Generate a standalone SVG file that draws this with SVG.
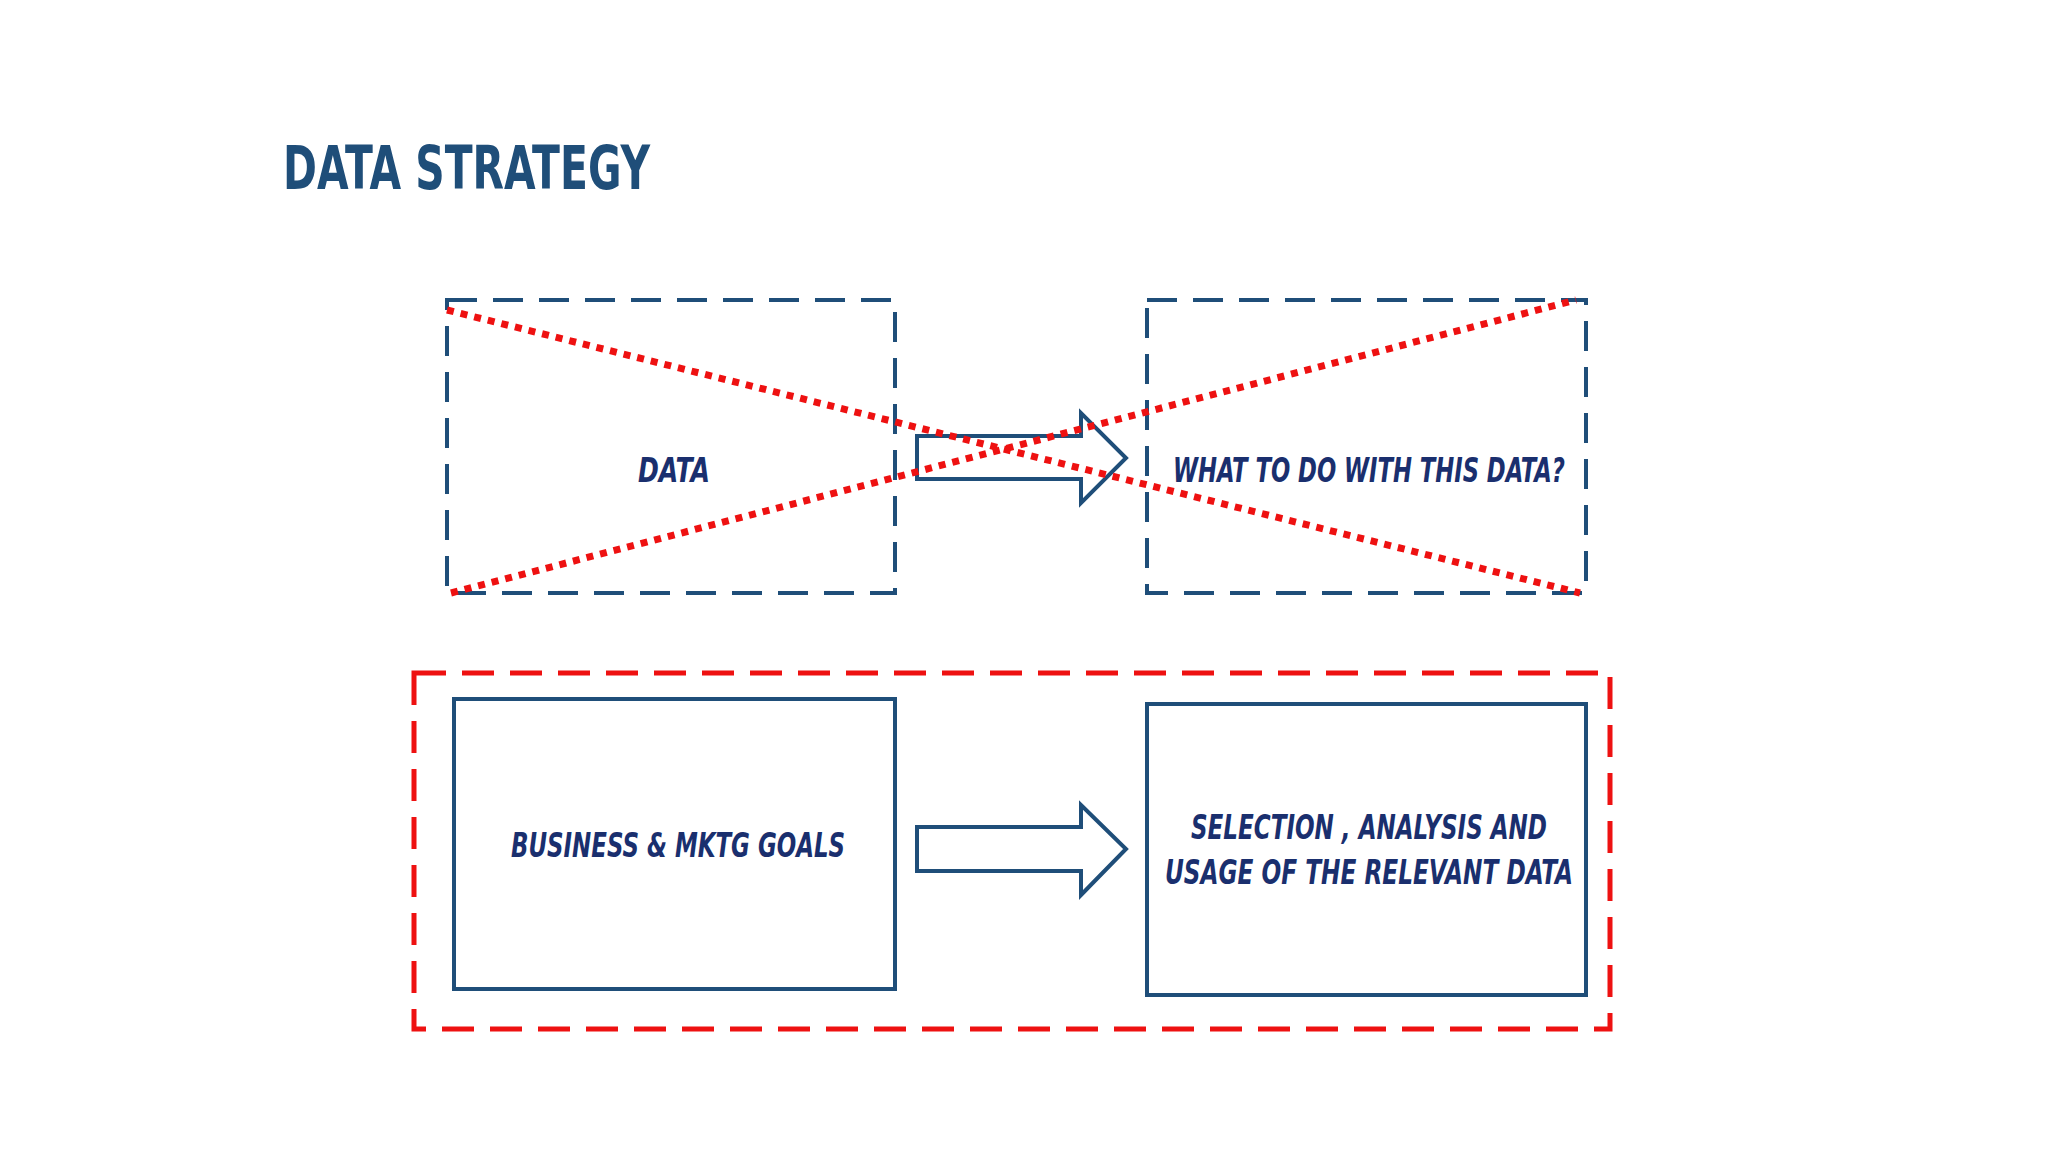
<svg xmlns="http://www.w3.org/2000/svg" width="2048" height="1152" viewBox="0 0 2048 1152">
<style>
.box{fill:none;stroke:#1f4e79;stroke-width:4}
.dash{stroke-dasharray:30 16}
.red{fill:none;stroke:#ee1111;stroke-width:5;stroke-dasharray:32 16}
.x{stroke:#ee1111;stroke-width:7;stroke-dasharray:7 7;fill:none}
.arrow{fill:#fff;stroke:#1f4e79;stroke-width:4}
.t{font-family:"DejaVu Sans Condensed","Liberation Sans",sans-serif;font-style:italic;font-weight:bold;fill:#1a2f6e;font-size:34px;text-anchor:middle}
</style>
<rect width="2048" height="1152" fill="#fff"/>
<text x="283" y="189" font-family="DejaVu Sans Condensed,Liberation Sans,sans-serif" font-weight="bold" font-size="60" fill="#1f4e79" textLength="367" lengthAdjust="spacingAndGlyphs">DATA STRATEGY</text>
<g id="outer"><rect class="red" x="414" y="673" width="1196" height="356"/></g>
<g id="n1"><rect class="box dash" x="447" y="300" width="448" height="293"/><text class="t" x="674" y="482" textLength="72" lengthAdjust="spacingAndGlyphs">DATA</text></g>
<g id="n2"><rect class="box dash" x="1147" y="300" width="439" height="293"/><text class="t" x="1369" y="482" textLength="392" lengthAdjust="spacingAndGlyphs">WHAT TO DO WITH THIS DATA?</text></g>
<g id="n3"><rect class="box" x="454" y="699" width="441" height="290"/><text class="t" x="678" y="857" textLength="334" lengthAdjust="spacingAndGlyphs">BUSINESS &amp; MKTG GOALS</text></g>
<g id="n4"><rect class="box" x="1147" y="704" width="439" height="291"/><text class="t" x="1369" y="839" textLength="356" lengthAdjust="spacingAndGlyphs">SELECTION , ANALYSIS AND</text><text class="t" x="1369" y="884" textLength="408" lengthAdjust="spacingAndGlyphs">USAGE OF THE  RELEVANT DATA</text></g>
<g id="connectors">
<path class="arrow" d="M917 436H1081V413L1126 458L1081 503V479H917Z"/>
<path class="arrow" d="M917 827H1081V805L1126 849L1081 895V871H917Z"/>
<line class="x" x1="447" y1="310" x2="1580" y2="593"/>
<line class="x" x1="451" y1="593" x2="1576" y2="300"/>
</g>
</svg>
